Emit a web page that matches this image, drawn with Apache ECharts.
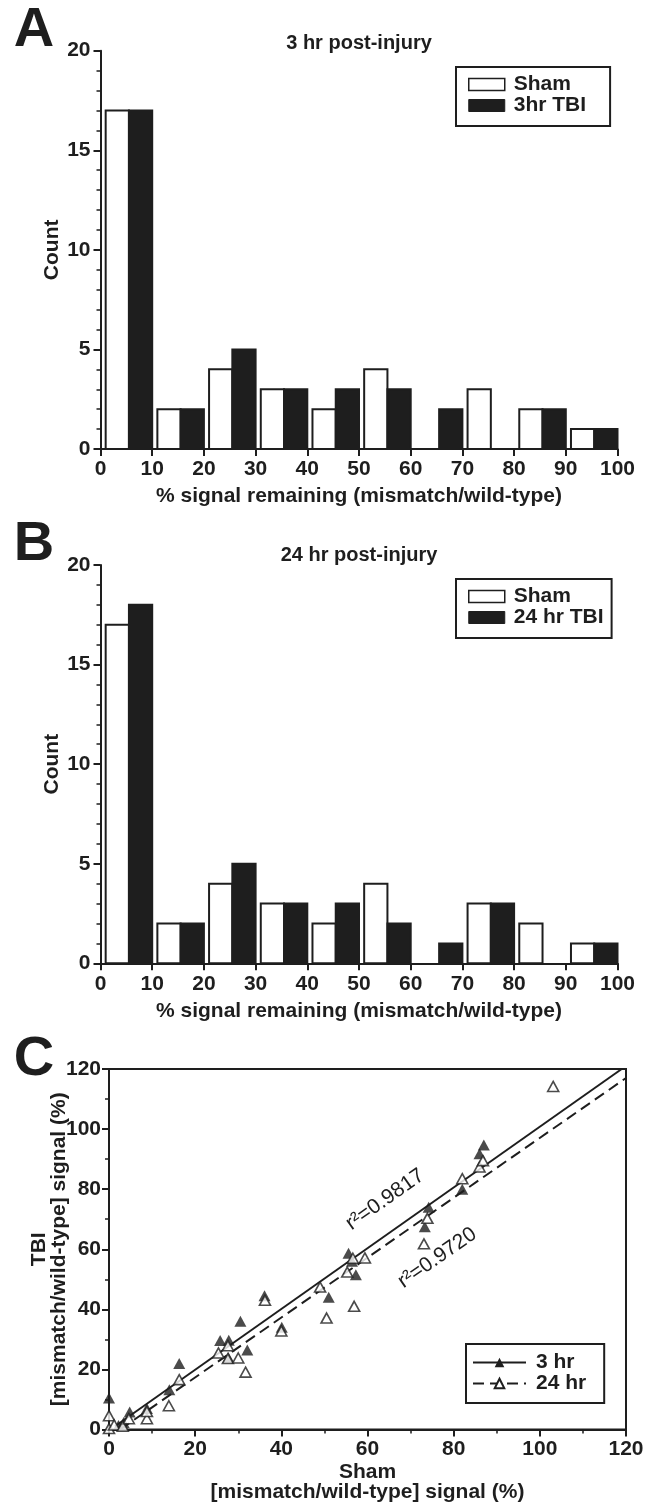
<!DOCTYPE html>
<html>
<head>
<meta charset="utf-8">
<style>
  html, body { margin: 0; padding: 0; background: #fff; }
  #chart { width: 651px; height: 1504px; }
</style>
<script src="https://cdn.jsdelivr.net/npm/echarts@6/dist/echarts.min.js"></script>
</head>
<body>
<div id="chart"></div>
<script>
// histogram bins, lower edge of each 10% bin
const binStarts = [0, 10, 20, 30, 40, 50, 60, 70, 80, 90];

// A: 3 hr post-injury
const shamA = [17, 2, 4, 3, 2, 4, 0, 3, 2, 1];
const tbi3hr = [17, 2, 5, 3, 3, 3, 2, 0, 2, 1];

// B: 24 hr post-injury
const shamB = [17, 2, 4, 3, 2, 4, 0, 3, 2, 1];
const tbi24hr = [18, 2, 5, 3, 3, 2, 1, 3, 0, 1];

// C: sham vs TBI signal (%), [sham, tbi]
const scatter3hr = [
  [0, 10.5], [2.2, 1.3], [3.4, 2.3], [4.8, 5.8], [8.8, 7], [14, 13.2], [16.3, 22],
  [25.8, 29.6], [27.8, 29.7], [27.7, 24], [30.5, 36], [32.1, 26.5], [36.1, 44.5],
  [40.1, 34], [51, 44], [55.6, 58.7], [56.4, 56], [57.3, 51.5], [73.3, 67.5],
  [74.2, 74], [82, 80], [86, 91.8], [87, 94.7]
];
const scatter24hr = [
  [0, 0.3], [0, 4.6], [1.2, 1.5], [3.2, 1.1], [4.6, 3.6], [8.8, 3.6], [8.8, 6],
  [13.9, 7.9], [16.3, 16.6], [25.4, 25.5], [27.6, 27.9], [27.6, 23.6], [30, 23.8],
  [31.7, 19.1], [36.2, 43], [40, 32.8], [49, 47.4], [50.5, 37.1], [55.3, 52.4],
  [56.6, 57], [56.9, 41], [59.4, 57.1], [73.1, 61.8], [73.9, 70.3], [82, 83.5],
  [86, 87.4], [86.8, 89.5], [103.1, 114.2]
];
// regression lines, end points
const fit3hr = [[1.4, 1.1], [119, 120]];
const fit24hr = [[2.6, 0], [120, 117]];
const r2Text = ['r\u00b2=0.9817', 'r\u00b2=0.9720'];
const r2Anchor = [[64.1, 76.5], [76.2, 57.1]];

const ink = '#1e1e1e';
const font = '"Liberation Sans", Arial, Helvetica, sans-serif';

const chart = echarts.init(document.getElementById('chart'));

function binBars(offLo, offHi) {
  return function (params, api) {
    const lo = api.value(0);
    const n = api.value(1);
    if (!n) return null;
    const a = api.coord([lo + offLo, 0]);
    const b = api.coord([lo + offHi, n]);
    return {
      type: 'rect',
      shape: { x: a[0], y: b[1], width: b[0] - a[0], height: a[1] - b[1] },
      style: api.style()
    };
  };
}

const axisCommon = {
  type: 'value',
  nameMoveOverlap: false,
  axisLine: { show: true, onZero: false, lineStyle: { color: ink, width: 2 } },
  axisTick: { show: true, length: 7, lineStyle: { color: ink, width: 2 } },
  axisLabel: { color: ink, fontSize: 21, fontWeight: 'bold', fontFamily: font },
  splitLine: { show: false },
  nameTextStyle: { color: ink, fontSize: 21, fontWeight: 'bold', fontFamily: font }
};

function histX(gridIndex) {
  return Object.assign({}, axisCommon, {
    gridIndex, min: 0, max: 100, interval: 10,
    name: '% signal remaining (mismatch/wild-type)',
    nameLocation: 'middle', nameGap: 37,
    axisLabel: Object.assign({}, axisCommon.axisLabel, { margin: 10 })
  });
}
function histY(gridIndex) {
  return Object.assign({}, axisCommon, {
    gridIndex, min: 0, max: 20, interval: 5,
    minorTick: { show: true, splitNumber: 5, length: 4, lineStyle: { color: ink, width: 1.5 } },
    name: 'Count', nameLocation: 'middle', nameGap: 38,
    axisLabel: Object.assign({}, axisCommon.axisLabel, { margin: 10 })
  });
}

function histLegend(top, tbiName, rightPad) {
  return {
    orient: 'vertical', left: 456, top: top,
    padding: [7, rightPad, 10, 12], itemGap: 0, itemWidth: 36, itemHeight: 12,
    borderColor: ink, borderWidth: 2, icon: 'rect', selectedMode: false,
    textStyle: { color: ink, fontSize: 21, fontWeight: 'bold', fontFamily: font, lineHeight: 21, padding: [0, 0, 0, 4] },
    data: [
      { name: 'Sham', itemStyle: { color: '#fff', borderColor: ink, borderWidth: 1.5 } },
      { name: tbiName, itemStyle: { color: ink, borderColor: ink, borderWidth: 1 } }
    ]
  };
}

function barSeries(name, gridIndex, counts, offLo, offHi, fill) {
  return {
    type: 'custom', name, xAxisIndex: gridIndex, yAxisIndex: gridIndex,
    renderItem: binBars(offLo, offHi),
    encode: { x: 0, y: 1 },
    itemStyle: { color: fill, borderColor: ink, borderWidth: 2 },
    data: binStarts.map((b, i) => [b, counts[i]])
  };
}

const option = {
  animation: false,
  backgroundColor: '#fff',
  textStyle: { fontFamily: font, color: ink },
  grid: [
    { left: 100.5, top: 50.7, width: 517, height: 398.3 },
    { left: 100.5, top: 565, width: 517, height: 398.3 },
    { left: 109, top: 1069, width: 517, height: 361, show: true, borderColor: ink, borderWidth: 2 }
  ],
  xAxis: [
    histX(0),
    histX(1),
    Object.assign({}, axisCommon, {
      gridIndex: 2, min: 0, max: 120, interval: 20,
      minorTick: { show: true, splitNumber: 2, length: 4, lineStyle: { color: ink, width: 1.5 } },
      name: 'Sham\n[mismatch/wild-type] signal (%)',
      nameLocation: 'middle', nameGap: 33,
      nameTextStyle: Object.assign({}, axisCommon.nameTextStyle, { lineHeight: 20 }),
      axisLabel: Object.assign({}, axisCommon.axisLabel, { margin: 9 })
    })
  ],
  yAxis: [
    histY(0),
    histY(1),
    Object.assign({}, axisCommon, {
      gridIndex: 2, min: 0, max: 120, interval: 20,
      minorTick: { show: true, splitNumber: 2, length: 4, lineStyle: { color: ink, width: 1.5 } },
      name: 'TBI\n[mismatch/wild-type] signal (%)',
      nameLocation: 'middle', nameGap: 40,
      nameTextStyle: Object.assign({}, axisCommon.nameTextStyle, { lineHeight: 20 }),
      axisLabel: Object.assign({}, axisCommon.axisLabel, { margin: 8 })
    })
  ],
  legend: [
    histLegend(67, '3hr TBI', 24),
    histLegend(579, '24 hr TBI', 8),
    {
      orient: 'vertical', left: 466, top: 1344,
      padding: [8, 18, 9, 6], itemGap: 0, itemWidth: 53, itemHeight: 12,
      borderColor: ink, borderWidth: 2, selectedMode: false,
      textStyle: { color: ink, fontSize: 21, fontWeight: 'bold', fontFamily: font, lineHeight: 18.5, padding: [0, 0, 0, 5] },
      data: ['3 hr', '24 hr']
    }
  ],
  series: [
    barSeries('Sham', 0, shamA, 1, 5.5, '#fff'),
    barSeries('3hr TBI', 0, tbi3hr, 5.5, 10, ink),
    barSeries('Sham', 1, shamB, 1, 5.5, '#fff'),
    barSeries('24 hr TBI', 1, tbi24hr, 5.5, 10, ink),
    {
      type: 'line', name: '3 hr', xAxisIndex: 2, yAxisIndex: 2,
      data: fit3hr, showSymbol: false, symbol: 'triangle',
      lineStyle: { color: ink, width: 2 },
      itemStyle: { color: ink }, clip: true, z: 2
    },
    {
      type: 'line', name: '24 hr', xAxisIndex: 2, yAxisIndex: 2,
      data: fit24hr, showSymbol: false, symbol: 'triangle',
      lineStyle: { color: ink, width: 2, type: [11, 6] },
      itemStyle: { color: '#fff', borderColor: ink, borderWidth: 1.5 }, clip: true, z: 2
    },
    {
      type: 'scatter', name: '3 hr pts', xAxisIndex: 2, yAxisIndex: 2,
      data: scatter3hr, symbol: 'triangle', symbolSize: [12, 11],
      itemStyle: { color: ink }, z: 3
    },
    {
      type: 'scatter', name: '24 hr pts', xAxisIndex: 2, yAxisIndex: 2,
      data: scatter24hr, symbol: 'triangle', symbolSize: [11, 10],
      itemStyle: { color: '#fff', borderColor: ink, borderWidth: 1.6 }, z: 4
    }
  ]
};

chart.setOption(option);

// text that sits in page coordinates or along the fit lines
const letter = { fontSize: 56, fontWeight: 'bold', fontFamily: font, fill: ink, align: 'center', verticalAlign: 'middle' };
const heading = { fontSize: 20, fontWeight: 'bold', fontFamily: font, fill: ink, align: 'center', verticalAlign: 'middle' };
const gfx = [
  { type: 'text', x: 34, y: 31, style: Object.assign({ text: 'A' }, letter) },
  { type: 'text', x: 34, y: 545, style: Object.assign({ text: 'B' }, letter) },
  { type: 'text', x: 34, y: 1060, style: Object.assign({ text: 'C' }, letter) },
  { type: 'text', x: 359, y: 43, style: Object.assign({ text: '3 hr post-injury' }, heading) },
  { type: 'text', x: 359, y: 555, style: Object.assign({ text: '24 hr post-injury' }, heading) }
];
[fit3hr, fit24hr].forEach(function (fit, i) {
  const p0 = chart.convertToPixel({ xAxisIndex: 2, yAxisIndex: 2 }, fit[0]);
  const p1 = chart.convertToPixel({ xAxisIndex: 2, yAxisIndex: 2 }, fit[1]);
  const ang = Math.atan2(p0[1] - p1[1], p1[0] - p0[0]);
  const at = chart.convertToPixel({ xAxisIndex: 2, yAxisIndex: 2 }, r2Anchor[i]);
  gfx.push({
    type: 'text', x: at[0], y: at[1], rotation: ang,
    style: { text: r2Text[i], fontSize: 21, fontFamily: font, fill: ink, align: 'center', verticalAlign: 'middle' }
  });
});
chart.setOption({ graphic: gfx });
</script>
</body>
</html>
